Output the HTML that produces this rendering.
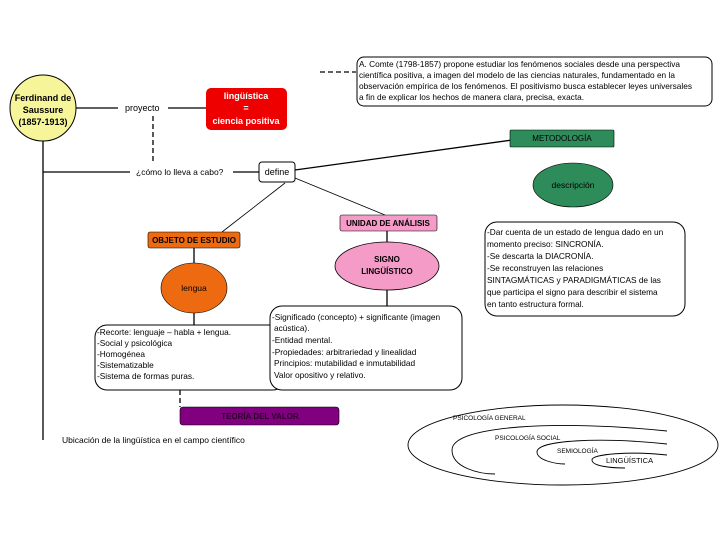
<!DOCTYPE html>
<html><head><meta charset="utf-8"><style>
body{margin:0;background:#fff}
svg{display:block;font-family:"Liberation Sans",sans-serif}
</style></head><body>
<svg width="720" height="540" viewBox="0 0 720 540" xmlns="http://www.w3.org/2000/svg">
<g stroke="#000" stroke-width="1.3" fill="none">
<line x1="320" y1="72" x2="356" y2="72" stroke-dasharray="5,3"/>
<line x1="153" y1="116" x2="153" y2="162" stroke-dasharray="5,3"/>
<line x1="180" y1="390" x2="180" y2="407" stroke-dasharray="5,3"/>
<line x1="76" y1="108" x2="118" y2="108"/>
<line x1="168" y1="108" x2="206" y2="108"/>
<line x1="43" y1="141" x2="43" y2="440"/>
<line x1="43" y1="172" x2="130" y2="172"/>
<line x1="233" y1="172" x2="259" y2="172"/>
<line x1="295" y1="170" x2="512" y2="140"/>
<line x1="295" y1="178" x2="385" y2="215" stroke-width="0.8"/>
<line x1="285" y1="183" x2="222" y2="232" stroke-width="0.8"/>
<line x1="194" y1="248" x2="194" y2="264"/>
<line x1="194" y1="313" x2="194" y2="325"/>
<line x1="387" y1="231" x2="387" y2="242"/>
<line x1="387" y1="290" x2="387" y2="307"/>
</g>
<circle cx="43" cy="108" r="33" fill="#f7f59a" stroke="#000" stroke-width="1"/>
<text font-size="9" font-weight="bold" text-anchor="middle" fill="#000"><tspan x="43" y="101">Ferdinand de</tspan><tspan x="43" y="113">Saussure</tspan><tspan x="43" y="125">(1857-1913)</tspan></text>
<text x="125" y="111" font-size="9">proyecto</text>
<rect x="206" y="88" width="81" height="42" rx="5" fill="#ee0000"/>
<text font-size="9" font-weight="bold" fill="#fff" text-anchor="middle"><tspan x="246" y="99">lingüística</tspan><tspan x="246" y="111">=</tspan><tspan x="246" y="124">ciencia positiva</tspan></text>
<rect x="357" y="57" width="355" height="49" rx="7" fill="#fff" stroke="#000" stroke-width="1"/>
<text font-size="8.3" fill="#000"><tspan x="359" y="67">A. Comte (1798-1857) propone estudiar los fenómenos sociales desde una perspectiva</tspan><tspan x="359" y="78">científica positiva, a imagen del modelo de las ciencias naturales, fundamentado en la</tspan><tspan x="359" y="89">observación empírica de los fenómenos. El positivismo busca establecer leyes universales</tspan><tspan x="359" y="100">a fin de explicar los hechos de manera clara, precisa, exacta.</tspan></text>
<text x="136" y="175" font-size="8.5">¿cómo lo lleva a cabo?</text>
<rect x="259" y="162" width="36" height="20" rx="3" fill="#fff" stroke="#000"/>
<text x="277" y="175" font-size="9" text-anchor="middle">define</text>
<rect x="510" y="130" width="104" height="17" rx="1" fill="#2e8b5a" stroke="#000" stroke-width="0.6"/>
<text x="562" y="141" font-size="8" text-anchor="middle">METODOLOGÍA</text>
<ellipse cx="573" cy="185" rx="40" ry="22" fill="#2e8b5a" stroke="#000" stroke-width="0.6"/>
<text x="573" y="188" font-size="8.5" text-anchor="middle">descripción</text>
<rect x="340" y="215" width="97" height="16" rx="2" fill="#f59bc8" stroke="#000" stroke-width="0.6"/>
<text x="388" y="226" font-size="8" font-weight="bold" text-anchor="middle">UNIDAD DE ANÁLISIS</text>
<rect x="148" y="232" width="92" height="16" rx="2" fill="#ee6a10" stroke="#000" stroke-width="0.6"/>
<text x="194" y="243" font-size="8" font-weight="bold" text-anchor="middle">OBJETO DE ESTUDIO</text>
<ellipse cx="194" cy="288" rx="33" ry="25" fill="#ee6a10" stroke="#000" stroke-width="0.6"/>
<text x="194" y="291" font-size="8.5" text-anchor="middle">lengua</text>
<ellipse cx="387" cy="266" rx="52" ry="24" fill="#f59bc8" stroke="#000" stroke-width="0.8"/>
<text font-size="8" font-weight="bold" text-anchor="middle"><tspan x="387" y="262">SIGNO</tspan><tspan x="387" y="274">LINGÜÍSTICO</tspan></text>
<rect x="95" y="325" width="190" height="65" rx="12" fill="#fff" stroke="#000"/>
<text font-size="8.3"><tspan x="97" y="335">-Recorte: lenguaje – habla + lengua.</tspan><tspan x="97" y="346">-Social y psicológica</tspan><tspan x="97" y="357">-Homogénea</tspan><tspan x="97" y="368">-Sistematizable</tspan><tspan x="97" y="379">-Sistema de formas puras.</tspan></text>
<rect x="270" y="306" width="192" height="84" rx="12" fill="#fff" stroke="#000"/>
<text font-size="8.3"><tspan x="272" y="320">-Significado (concepto) + significante (imagen</tspan><tspan x="274" y="331">acústica).</tspan><tspan x="272" y="343">-Entidad mental.</tspan><tspan x="272" y="355">-Propiedades: arbitrariedad y linealidad</tspan><tspan x="274" y="366">Principios: mutabilidad e inmutabilidad</tspan><tspan x="274" y="378">Valor opositivo y relativo.</tspan></text>
<rect x="485" y="222" width="200" height="94" rx="12" fill="#fff" stroke="#000"/>
<text font-size="8.3"><tspan x="487" y="235">-Dar cuenta de un estado de lengua dado en un</tspan><tspan x="487" y="247">momento preciso: SINCRONÍA.</tspan><tspan x="487" y="259">-Se descarta la DIACRONÍA.</tspan><tspan x="487" y="271">-Se reconstruyen las relaciones</tspan><tspan x="487" y="283">SINTAGMÁTICAS y PARADIGMÁTICAS de las</tspan><tspan x="487" y="295">que participa el signo para describir el sistema</tspan><tspan x="487" y="307">en tanto estructura formal.</tspan></text>
<rect x="180" y="407" width="159" height="18" rx="3" fill="#800080" stroke="#000" stroke-width="0.6"/>
<text x="260" y="419" font-size="8" font-weight="bold" text-anchor="middle" fill="#2a002a">TEORÍA DEL VALOR</text>
<text x="62" y="443" font-size="8.5">Ubicación de la lingüística en el campo científico</text>
<g stroke="#000" stroke-width="0.9" fill="none">
<ellipse cx="563" cy="445" rx="155" ry="40"/>
<path d="M667,431 C560,420 452,425 452,450 C452,468 480,474 495,474"/>
<path d="M667,444 C600,437 537,440 537,452 C537,460 555,464 565,464"/>
<path d="M667,455 C630,451 592,454 592,460 C592,466 610,468 625,468"/>
</g>
<g font-size="6.5"><text x="453" y="420">PSICOLOGÍA GENERAL</text><text x="495" y="440">PSICOLOGÍA SOCIAL</text><text x="557" y="453">SEMIOLOGÍA</text><text x="606" y="463" font-size="7.5">LINGÜÍSTICA</text></g>
</svg>
</body></html>
